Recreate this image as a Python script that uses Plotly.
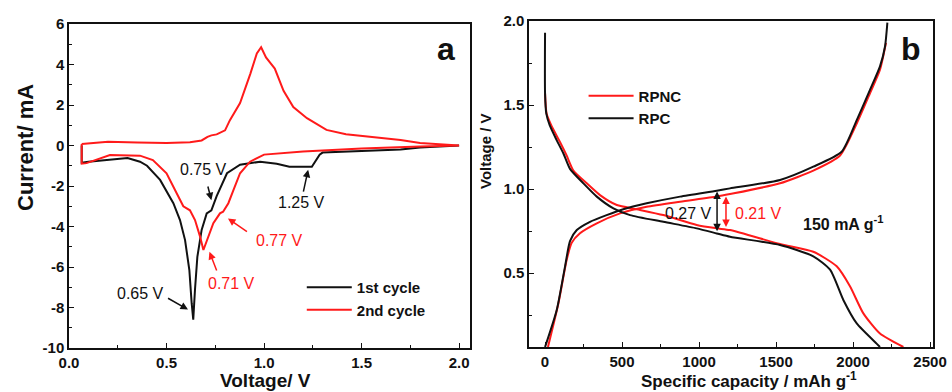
import plotly.graph_objects as go

# ---- Panel a: CV curves (Voltage V, Current mA)
cyc1_v = [2.0, 1.8, 1.7, 1.53, 1.44, 1.30, 1.285, 1.245, 1.13, 1.065, 0.98, 0.877, 0.81, 0.757, 0.73, 0.706, 0.68,
          0.658, 0.646, 0.637, 0.629, 0.617, 0.595, 0.569, 0.535, 0.467, 0.40, 0.364, 0.30, 0.20, 0.10, 0.065, 0.065]
cyc1_i = [0.0, -0.1, -0.2, -0.25, -0.3, -0.35, -0.45, -1.05, -1.05, -0.9, -0.8, -0.95, -1.37, -2.5, -3.2, -3.35, -4.17,
          -5.5, -7.1, -8.6, -7.8, -6.15, -4.67, -3.68, -2.85, -1.7, -1.0, -0.8, -0.62, -0.7, -0.8, -0.85, 0.0]

cyc2_v = [0.065, 0.20, 0.35, 0.50, 0.62, 0.68, 0.71, 0.73, 0.757, 0.80, 0.825, 0.877, 0.93, 0.963, 0.985, 1.01, 1.03,
          1.055, 1.10, 1.15, 1.22, 1.32, 1.42, 1.56, 1.70, 1.80, 2.0,
          1.80, 1.50, 1.20, 1.00, 0.928, 0.877, 0.843, 0.817, 0.79, 0.774, 0.74, 0.714, 0.689, 0.672, 0.646, 0.62,
          0.586, 0.552, 0.50, 0.43, 0.364, 0.21, 0.09, 0.065, 0.065]
cyc2_i = [0.07, 0.19, 0.15, 0.12, 0.16, 0.25, 0.43, 0.5, 0.55, 0.75, 1.25, 2.1, 3.55, 4.55, 4.85, 4.35, 4.1,
          3.8, 2.7, 1.9, 1.35, 0.77, 0.56, 0.43, 0.27, 0.12, 0.0,
          -0.05, -0.15, -0.3, -0.45, -0.8, -1.37, -2.2, -2.85, -3.27, -3.35, -3.84, -4.5, -5.16, -4.5, -3.68, -3.2,
          -3.0, -2.36, -1.37, -0.72, -0.5, -0.47, -0.87, -0.9, 0.07]

# ---- Panel b: discharge/charge profiles (capacity mAh/g, voltage V)
rpc_dis_c = [0, 0, 8, 30, 76, 120, 162, 249, 336, 444, 552, 768, 985, 1115, 1201, 1526, 1742, 1851, 1937, 2024, 2153,
             2175]
rpc_dis_v = [1.93, 1.57, 1.45, 1.38, 1.29, 1.21, 1.12, 1.034, 0.955, 0.885, 0.845, 0.805, 0.766, 0.736, 0.716, 0.667,
             0.60, 0.52, 0.34, 0.20, 0.08, 0.06]
rpc_chg_c = [0, 76, 130, 162, 206, 292, 400, 508, 660, 877, 1115, 1201, 1526, 1742, 1926, 2024, 2110, 2175, 2208, 2223]
rpc_chg_v = [0.06, 0.28, 0.54, 0.69, 0.756, 0.805, 0.845, 0.88, 0.915, 0.955, 0.99, 1.004, 1.054, 1.133, 1.222, 1.41,
             1.59, 1.73, 1.85, 1.99]

rpnc_dis_c = [0, 10, 40, 97, 140, 184, 271, 357, 466, 595, 768, 985, 1115, 1201, 1526, 1742, 1894, 1981, 2067, 2175,
              2327]
rpnc_dis_v = [1.57, 1.45, 1.38, 1.28, 1.20, 1.11, 1.034, 0.964, 0.905, 0.88, 0.845, 0.786, 0.766, 0.756, 0.673, 0.627,
              0.54, 0.42, 0.26, 0.14, 0.06]
rpnc_chg_c = [19, 87, 141, 173, 227, 336, 487, 660, 877, 1115, 1201, 1526, 1742, 1916, 2024, 2110, 2175, 2214]
rpnc_chg_v = [0.06, 0.32, 0.58, 0.68, 0.737, 0.796, 0.855, 0.895, 0.925, 0.955, 0.97, 1.034, 1.11, 1.20, 1.39, 1.57,
              1.71, 1.87]

a_ticks = [0.0, 0.5, 1.0, 1.5, 2.0]
a_yticks = [-10, -8, -6, -4, -2, 0, 2, 4, 6]
b_ticks = [0, 500, 1000, 1500, 2000, 2500]
b_yticks = [0.5, 1.0, 1.5, 2.0]

BLACK = "#111111"
RED = "#ff1a1a"
FONT = "Arial, Liberation Sans, sans-serif"

fig = go.Figure()

fig.add_trace(go.Scatter(x=cyc1_v, y=cyc1_i, mode="lines", name="1st cycle",
                         line=dict(color=BLACK, width=2), xaxis="x", yaxis="y", legend="legend"))
fig.add_trace(go.Scatter(x=cyc2_v, y=cyc2_i, mode="lines", name="2nd cycle",
                         line=dict(color=RED, width=2), xaxis="x", yaxis="y", legend="legend"))

fig.add_trace(go.Scatter(x=rpnc_dis_c + [None] + rpnc_chg_c, y=rpnc_dis_v + [None] + rpnc_chg_v,
                         mode="lines", name="RPNC", line=dict(color=RED, width=2, shape="spline", smoothing=0.6),
                         xaxis="x2", yaxis="y2", legend="legend2", legendrank=1, connectgaps=False))
fig.add_trace(go.Scatter(x=rpc_dis_c + [None] + rpc_chg_c, y=rpc_dis_v + [None] + rpc_chg_v,
                         mode="lines", name="RPC", line=dict(color=BLACK, width=2, shape="spline", smoothing=0.6),
                         xaxis="x2", yaxis="y2", legend="legend2", legendrank=2, connectgaps=False))

tickfont = dict(family=FONT, size=15, color=BLACK, weight="bold")
axis_common = dict(showline=True, linecolor=BLACK, linewidth=1.5, mirror=True, ticks="inside",
                   ticklen=5, tickwidth=1.2, tickcolor=BLACK, showgrid=False, zeroline=False,
                   tickfont=tickfont, automargin=False)
minor_common = dict(ticks="inside", ticklen=3, tickcolor=BLACK)

def bold(vals, fmt):
    return ["<b>" + fmt.format(v) + "</b>" for v in vals]

fig.update_layout(
    width=952, height=392, margin=dict(l=0, r=0, t=0, b=0),
    paper_bgcolor="white", plot_bgcolor="white",
    font=dict(family=FONT, color=BLACK),
    xaxis=dict(domain=[0.0725, 0.4937], range=[0, 2.056], tickvals=a_ticks, ticktext=bold(a_ticks, "{:.1f}"),
               minor=dict(dtick=0.25, tick0=0, **minor_common), **axis_common),
    yaxis=dict(domain=[0.1122, 0.9388], range=[-10, 6], tickvals=a_yticks, ticktext=bold(a_yticks, "{:d}"),
               minor=dict(dtick=1, **minor_common), **axis_common),
    xaxis2=dict(domain=[0.5557, 0.98], range=[-104, 2519], tickvals=b_ticks, ticktext=bold(b_ticks, "{:d}"),
                anchor="y2", minor=dict(dtick=250, tick0=0, **minor_common), **axis_common),
    yaxis2=dict(domain=[0.1148, 0.9464], range=[0.06, 2.0], tickvals=b_yticks, ticktext=bold(b_yticks, "{:.1f}"),
                anchor="x2", minor=dict(tickvals=[0.25, 0.75, 1.25, 1.75], **minor_common), **axis_common),
    legend=dict(x=0.317, y=1 - 298.5 / 392, xanchor="left", yanchor="middle", bgcolor="rgba(0,0,0,0)",
                font=dict(family=FONT, size=15, color=BLACK, weight="bold"), tracegroupgap=0,
                itemwidth=45),
    legend2=dict(x=0.613, y=1 - 107 / 392, xanchor="left", yanchor="middle", bgcolor="rgba(0,0,0,0)",
                 font=dict(family=FONT, size=15, color=BLACK, weight="bold"), tracegroupgap=0,
                 itemwidth=45),
    showlegend=True,
)

def ptext(text, px, py, size, angle=0):
    return dict(text=text, x=px / 952, y=1 - py / 392, xref="paper", yref="paper", xanchor="center",
                yanchor="middle", textangle=angle, showarrow=False,
                font=dict(size=size, weight="bold", color=BLACK))

ann = [
    ptext("Current/ mA", 25, 148, 22, -90),
    ptext("Voltage/ V", 265, 380, 19),
    ptext("Voltage / V", 485, 151, 15, -90),
    ptext("Specific capacity / mAh g<sup>-1</sup>", 749, 380, 17),
    ptext("a", 446, 49, 32),
    ptext("b", 911, 49, 32),
]

def lab(text, tx, ty, color, xr="x", yr="y", size=16):
    return dict(text=text, x=tx, y=ty, xref=xr, yref=yr, showarrow=False, xanchor="center", yanchor="middle",
                font=dict(size=size, color=color))

def arr(x0, y0, x1, y1, color, xr="x", yr="y", side="end"):
    return dict(text="", x=x1, y=y1, ax=x0, ay=y0, xref=xr, yref=yr, axref=xr, ayref=yr,
                showarrow=True, arrowhead=2, arrowsize=1, arrowwidth=1.5, arrowcolor=color,
                arrowside=side, standoff=0, startstandoff=0)

ann += [
    lab("0.75 V", 0.69, -1.2, BLACK), arr(0.71, -1.95, 0.73, -2.7, BLACK),
    lab("1.25 V", 1.19, -2.8, BLACK), arr(1.20, -2.35, 1.226, -1.2, BLACK),
    lab("0.77 V", 1.08, -4.67, RED), arr(0.92, -4.3, 0.815, -3.6, RED),
    lab("0.71 V", 0.835, -6.8, RED), arr(0.76, -6.25, 0.72, -5.25, RED),
    lab("0.65 V", 0.364, -7.3, BLACK), arr(0.50, -7.5, 0.61, -8.1, BLACK),
    # panel b
    lab("0.27 V", 929, 0.857, BLACK, "x2", "y2"), arr(1117, 0.74, 1117, 0.985, BLACK, "x2", "y2", "end+start"),
    lab("0.21 V", 1383, 0.857, RED, "x2", "y2"), arr(1175, 0.765, 1175, 0.955, RED, "x2", "y2", "end+start"),
    dict(text="150 mA g<sup>-1</sup>", x=1940, y=0.80, xref="x2", yref="y2", showarrow=False,
         xanchor="center", yanchor="middle", font=dict(size=16, weight="bold", color=BLACK)),
]
fig.update_layout(annotations=ann)

fig.write_html("out.html")
